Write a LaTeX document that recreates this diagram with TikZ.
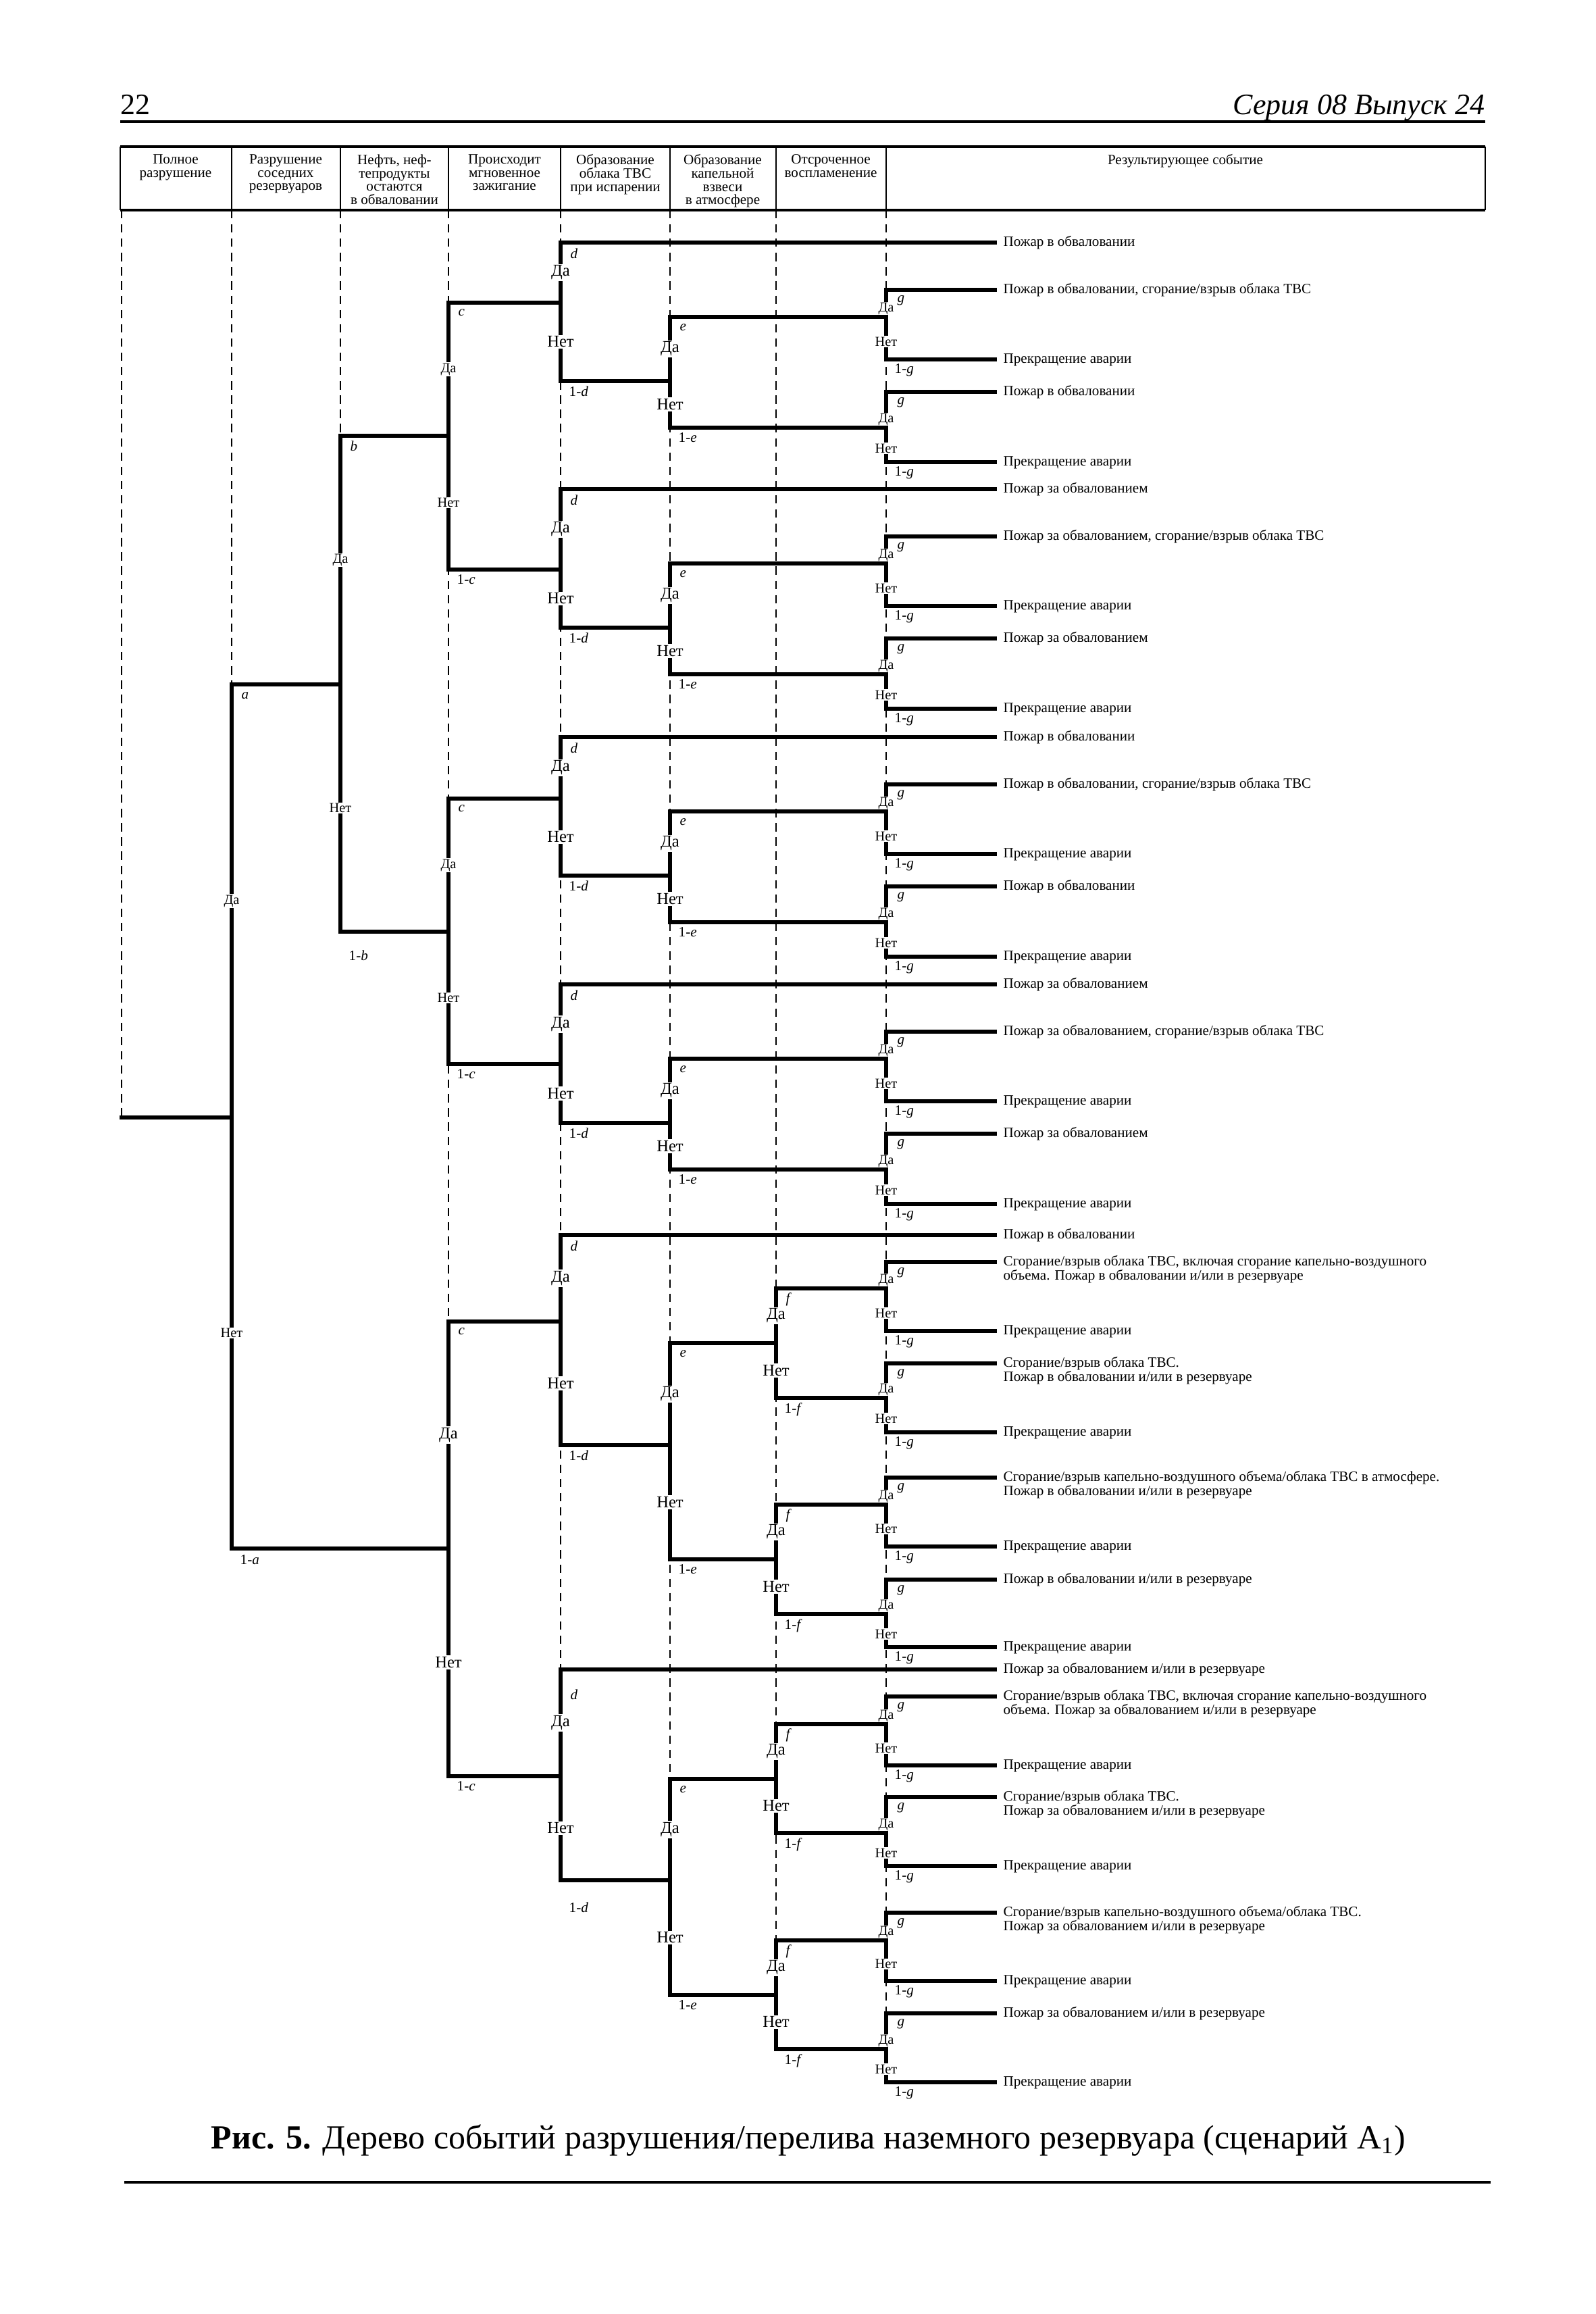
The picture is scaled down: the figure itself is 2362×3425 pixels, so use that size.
\documentclass[tikz,border=0pt]{standalone}
\usepackage{fontspec}
\setmainfont{Liberation Serif}

\begin{document}
\begin{tikzpicture}[x=0.01cm, y=-0.01cm,
    treeline/.style={line width=1.5pt, line cap=rect},
    guide/.style={line width=0.45pt, dash pattern=on 3.5pt off 2.5pt},
    pagerule/.style={line width=1.2pt},
    ansbig/.style={fill=white, inner sep=0.6pt, font=\fontsize{7}{7}\selectfont},
    anssmall/.style={fill=white, inner sep=0.4pt, font=\fontsize{5.8}{5.8}\selectfont},
    prob/.style={anchor=west, inner sep=0pt, font=\fontsize{6}{6}\selectfont},
    outcome/.style={anchor=base west, inner xsep=3.4pt, inner ysep=0pt, yshift=-1.6pt,
      align=left, font=\fontsize{6}{5.8}\selectfont},
    outcometwo/.style={outcome, yshift=-5.8pt},
    colhead/.style={anchor=north, align=center, inner sep=0pt, font=\fontsize{6}{5.6}\selectfont}]
\useasboundingbox (0,0) rectangle (2362,3425);

% page head
\node[anchor=base west, inner sep=0pt, font=\fontsize{12.5}{12.5}\selectfont] (pagenum) at (178,170) {22};
\node[anchor=base east, inner sep=0pt, font=\fontsize{12.5}{12.5}\selectfont\itshape] (series) at (2199,170) {Серия 08 Выпуск 24};
\draw[pagerule] (178,180) -- (2199,180);

% headings
\draw[line width=0.9pt] (178,217) -- (2199,217) (178,311) -- (2199,311);
\foreach \x in {178,343,504,664,830,992,1149,1312,2199}
  \draw[line width=0.4pt] (\x,217) -- (\x,311);
\node[colhead] (h1) at (260,228) {Полное\\разрушение};
\node[colhead] (h2) at (423,228) {Разрушение\\соседних\\резервуаров};
\node[colhead] (h3) at (584,228) {Нефть, неф-\\тепродукты\\остаются\\в обваловании};
\node[colhead] (h4) at (747,228) {Происходит\\мгновенное\\зажигание};
\node[colhead] (h5) at (911,228) {Образование\\облака ТВС\\при испарении};
\node[colhead] (h6) at (1070,228) {Образование\\капельной\\взвеси\\в атмосфере};
\node[colhead] (h7) at (1230,228) {Отсроченное\\воспламенение};
\node[colhead] (h8) at (1755,228) {Результирующее событие};

% guides
\coordinate (root) at (180,1654);
\coordinate (endx) at (1473,0);
\foreach \x/\y in {180/1654,343/1013,504/645,664/2629,830/2783,992/2953,1149/3033,1312/3082}
  \draw[guide] (\x,311) -- (\x,\y);

% branch points
\foreach \n/\xx/\yt/\yj/\yb/\lt/\st/\ot/\ob in {
    a/343/1013/1654/2292/a/anssmall/17/17,
    b/504/645/1013/1379/b/anssmall/15/35,
    c1/664/448/645/843/c/anssmall/15/15,
    c2/664/1182/1379/1575/c/anssmall/15/15,
    c3/664/1956/2292/2629/c/ansbig/15/15,
    d1/830/359/448/564/d/ansbig/16/15,
    d2/830/724/843/929/d/ansbig/16/15,
    d3/830/1091/1182/1296/d/ansbig/16/15,
    d4/830/1457/1575/1662/d/ansbig/16/15,
    d5/830/1828/1956/2139/d/ansbig/16/15,
    d6/830/2471/2629/2783/d/ansbig/37/40,
    e1/992/469/564/633/e/ansbig/16/15,
    e2/992/834/929/998/e/ansbig/16/15,
    e3/992/1201/1296/1365/e/ansbig/16/15,
    e4/992/1567/1662/1731/e/ansbig/16/15,
    e5/992/1988/2139/2308/e/ansbig/16/15,
    e6/992/2633/2783/2953/e/ansbig/16/15,
    f1/1149/1907/1988/2069/f/ansbig/16/17,
    f2/1149/2227/2308/2389/f/ansbig/16/17,
    f3/1149/2552/2633/2713/f/ansbig/16/17,
    f4/1149/2872/2953/3033/f/ansbig/16/17}{
  \coordinate (\n top) at (\xx,\yt);
  \coordinate (\n jn) at (\xx,\yj);
  \coordinate (\n bot) at (\xx,\yb);
  \draw[treeline] (\n top) -- (\n bot);
  \node[\st] (\n yes) at (\xx,{(\yt+\yj)/2}) {Да};
  \node[\st] (\n no) at (\xx,{(\yj+\yb)/2}) {Нет};
  \node[prob] (\n p) at (\xx+14,\yt+\ot) {\textit{\lt}};
  \node[prob] (\n q) at (\xx+12,\yb+\ob) {1-\textit{\lt}};
}
% delayed ignition
\foreach \n/\yt/\yj/\yb in {g1/429/469/532, g2/580/633/684, g3/794/834/897, g4/945/998/1049,
    g5/1161/1201/1264, g6/1312/1365/1416, g7/1527/1567/1630, g8/1678/1731/1782,
    g9/1868/1907/1970, g10/2018/2069/2120, g11/2187/2227/2289, g12/2338/2389/2438,
    g13/2511/2552/2613, g14/2660/2713/2762, g15/2831/2872/2932, g16/2980/3033/3082}{
  \coordinate (\n top) at (1312,\yt);
  \coordinate (\n jn) at (1312,\yj);
  \coordinate (\n bot) at (1312,\yb);
  \draw[treeline] (\n top) -- (\n bot);
  \node[anssmall] (\n yes) at (1312,\yj-12) {Да};
  \node[anssmall] (\n no) at (1312,{(\yj+\yb)/2+5}) {Нет};
  \node[prob] (\n p) at (1328,\yt+16) {\textit{g}};
  \node[prob] (\n q) at (1324,\yb+16) {1-\textit{g}};
}

% connectors
\draw[treeline] (root) -- (ajn);
\foreach \p/\c in {atop/bjn, abot/c3jn, btop/c1jn, bbot/c2jn,
    c1top/d1jn, c1bot/d2jn, c2top/d3jn, c2bot/d4jn, c3top/d5jn, c3bot/d6jn,
    d1bot/e1jn, d2bot/e2jn, d3bot/e3jn, d4bot/e4jn, d5bot/e5jn, d6bot/e6jn,
    e1top/g1jn, e1bot/g2jn, e2top/g3jn, e2bot/g4jn,
    e3top/g5jn, e3bot/g6jn, e4top/g7jn, e4bot/g8jn,
    e5top/f1jn, e5bot/f2jn, e6top/f3jn, e6bot/f4jn,
    f1top/g9jn, f1bot/g10jn, f2top/g11jn, f2bot/g12jn,
    f3top/g13jn, f3bot/g14jn, f4top/g15jn, f4bot/g16jn}
  \draw[treeline] (\p) -- (\c);

% outcomes
\foreach \k/\pl in {1/в обваловании, 2/за обвалованием, 3/в обваловании, 4/за обвалованием}{
  \pgfmathtruncatemacro{\ga}{2*\k-1}
  \pgfmathtruncatemacro{\gb}{2*\k}
  \node[outcome] (od\k) at (d\k top -| endx) {Пожар \pl};
  \node[outcome] (o\ga top) at (g\ga top -| endx) {Пожар \pl, сгорание/взрыв облака ТВС};
  \node[outcome] (o\gb top) at (g\gb top -| endx) {Пожар \pl};
}
\node[outcome] (od5) at (d5top -| endx) {Пожар в обваловании};
\node[outcometwo] (o9top) at (g9top -| endx) {Сгорание/взрыв облака ТВС, включая сгорание капельно-воздушного\\объема. Пожар в обваловании и/или в резервуаре};
\node[outcometwo] (o10top) at (g10top -| endx) {Сгорание/взрыв облака ТВС.\\Пожар в обваловании и/или в резервуаре};
\node[outcometwo] (o11top) at (g11top -| endx) {Сгорание/взрыв капельно-воздушного объема/облака ТВС в атмосфере.\\Пожар в обваловании и/или в резервуаре};
\node[outcome] (o12top) at (g12top -| endx) {Пожар в обваловании и/или в резервуаре};
\node[outcome] (od6) at (d6top -| endx) {Пожар за обвалованием и/или в резервуаре};
\node[outcometwo] (o13top) at (g13top -| endx) {Сгорание/взрыв облака ТВС, включая сгорание капельно-воздушного\\объема. Пожар за обвалованием и/или в резервуаре};
\node[outcometwo] (o14top) at (g14top -| endx) {Сгорание/взрыв облака ТВС.\\Пожар за обвалованием и/или в резервуаре};
\node[outcometwo] (o15top) at (g15top -| endx) {Сгорание/взрыв капельно-воздушного объема/облака ТВС.\\Пожар за обвалованием и/или в резервуаре};
\node[outcome] (o16top) at (g16top -| endx) {Пожар за обвалованием и/или в резервуаре};
\foreach \g in {1,...,16}
  \node[outcome] (o\g bot) at (g\g bot -| endx) {Прекращение аварии};
\foreach \g in {1,...,16}{
  \draw[treeline] (g\g top) -- (o\g top.base west |- g\g top);
  \draw[treeline] (g\g bot) -- (o\g bot.base west |- g\g bot);
}
\foreach \k in {1,...,6}
  \draw[treeline] (d\k top) -- (od\k.base west |- d\k top);

% caption
\node[anchor=base, inner sep=0pt, font=\fontsize{14.2}{14.2}\selectfont] (caption) at (1197,3180)
  {\textbf{Рис. 5.} Дерево событий разрушения/перелива наземного резервуара (сценарий A\textsubscript{1})};
\draw[line width=1pt] (184,3230) -- (2207,3230);
\end{tikzpicture}
\end{document}
